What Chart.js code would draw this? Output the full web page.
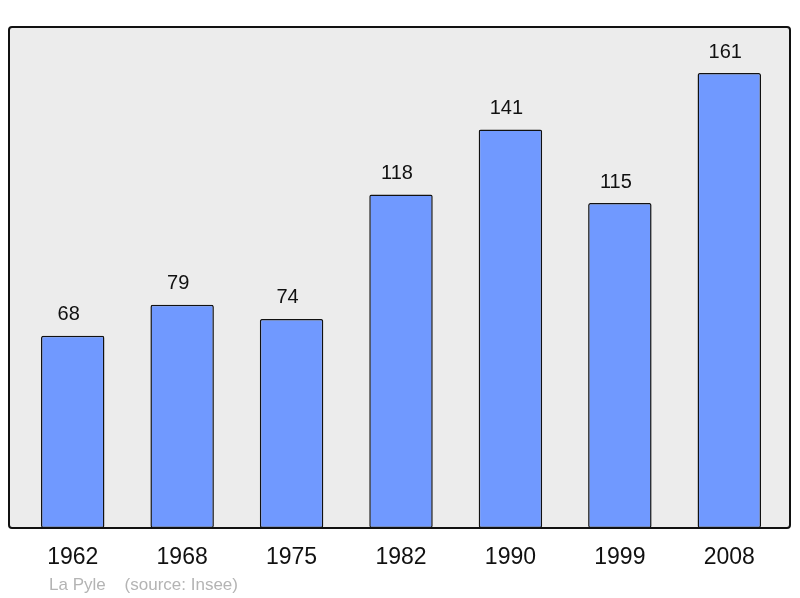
<!DOCTYPE html>
<html>
<head>
<meta charset="utf-8">
<script src="https://cdn.jsdelivr.net/npm/chart.js@4/dist/chart.umd.min.js"></script>
<style>
  html, body { margin: 0; padding: 0; background: #ffffff; }
  canvas { display: block; }
</style>
</head>
<body>
<canvas id="popChart" width="800" height="598"></canvas>
<script>
// données de population
const years = ['1962', '1968', '1975', '1982', '1990', '1999', '2008'];
const population = [68, 79, 74, 118, 141, 115, 161];
const footerText = 'La Pyle    (source: Insee)';

// cadre gris arrondi derrière les barres
const framePlugin = {
    id: 'frame',
    beforeDatasetsDraw(chart) {
        const { ctx, chartArea: a } = chart;
        ctx.save();
        ctx.beginPath();
        ctx.roundRect(a.left - 9, a.top, a.right - a.left + 15, a.bottom - a.top, 3);
        ctx.fillStyle = '#ececec';
        ctx.fill();
        ctx.restore();
    },
    afterDatasetsDraw(chart) {
        const { ctx, chartArea: a } = chart;
        ctx.save();
        ctx.beginPath();
        ctx.roundRect(a.left - 9, a.top, a.right - a.left + 15, a.bottom - a.top, 3);
        ctx.lineWidth = 2;
        ctx.strokeStyle = '#111111';
        ctx.stroke();

        // valeurs au-dessus des barres
        const meta = chart.getDatasetMeta(0);
        ctx.fillStyle = '#111111';
        ctx.font = '20px "Liberation Sans", Arial, sans-serif';
        ctx.textAlign = 'center';
        ctx.textBaseline = 'middle';
        meta.data.forEach((bar, i) => {
            ctx.fillText(String(population[i]), bar.x - 4, bar.y - 21);
        });

        // pied de page
        ctx.fillStyle = '#b4b4b4';
        ctx.font = '17px "Liberation Sans", Arial, sans-serif';
        ctx.textAlign = 'left';
        ctx.fillText(footerText, 49, 585);
        ctx.restore();
    }
};

const ctx = document.getElementById('popChart').getContext('2d');
new Chart(ctx, {
    type: 'bar',
    data: {
        labels: years,
        datasets: [{
            data: population,
            backgroundColor: '#7099ff',
            borderColor: '#111111',
            borderWidth: 1.5,
            borderSkipped: false,
            borderRadius: 2,
            barPercentage: 0.58,
            categoryPercentage: 1.0
        }]
    },
    options: {
        responsive: false,
        animation: false,
        devicePixelRatio: 1,
        layout: { padding: { left: 18, right: 16, top: 27, bottom: 0 } },
        plugins: {
            legend: { display: false },
            tooltip: { enabled: false }
        },
        scales: {
            x: {
                grid: { display: false, drawTicks: false },
                border: { display: false },
                ticks: {
                    color: '#111111',
                    padding: 16,
                    font: { family: '"Liberation Sans", Arial, sans-serif', size: 23 }
                },
                afterFit(scale) { scale.height = 70; }
            },
            y: {
                display: false,
                min: 0,
                max: 177.3
            }
        }
    },
    plugins: [framePlugin]
});
</script>
</body>
</html>
